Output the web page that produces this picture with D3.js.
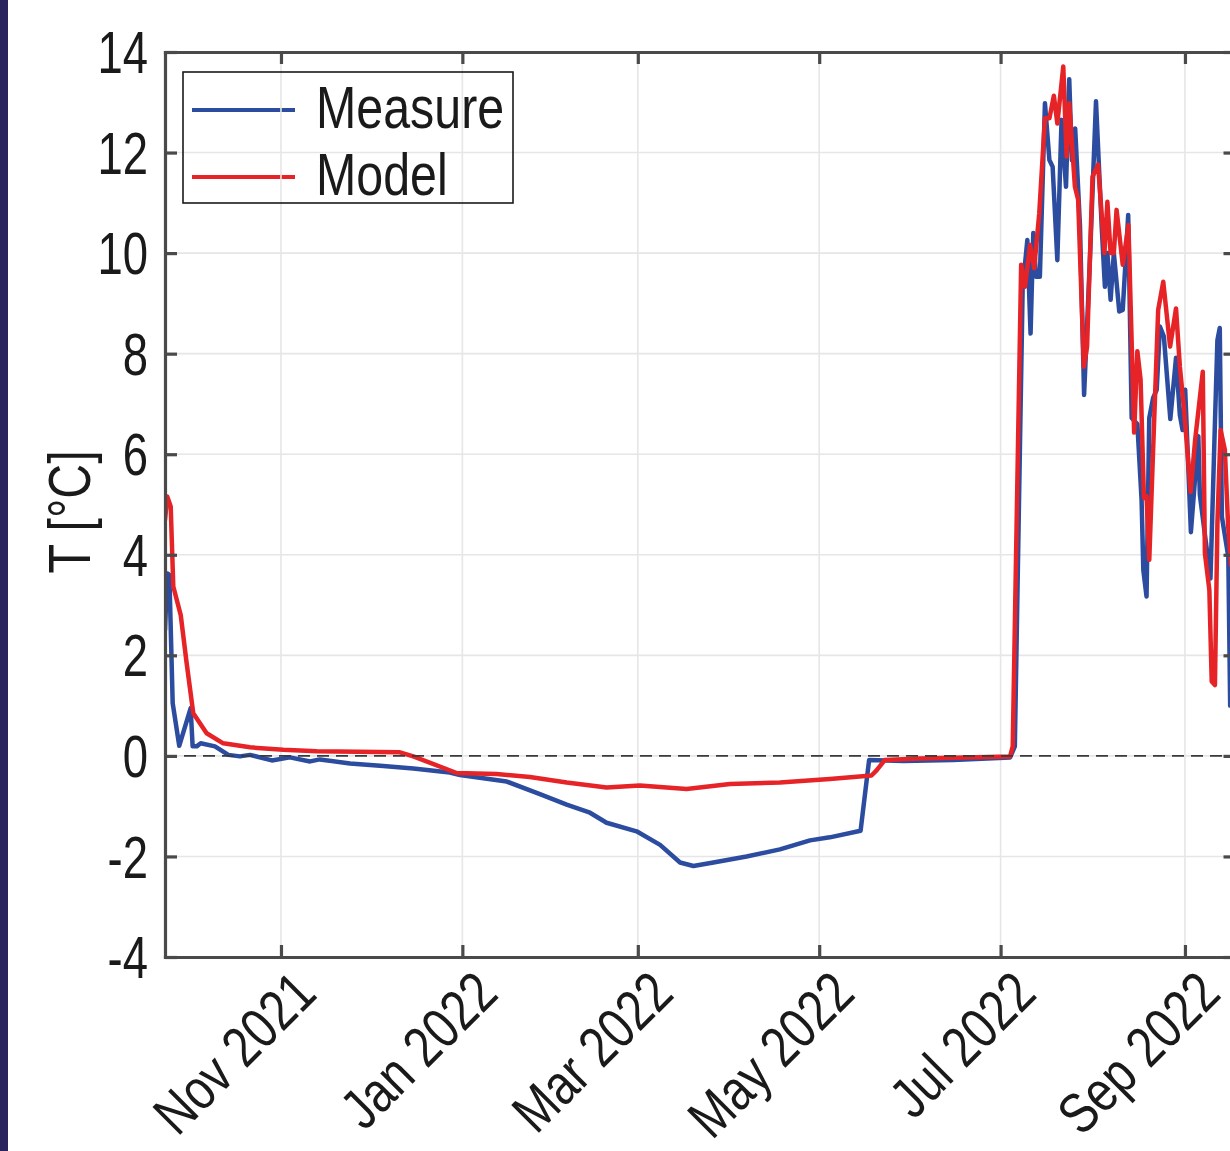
<!DOCTYPE html>
<html>
<head>
<meta charset="utf-8">
<script src="https://cdn.jsdelivr.net/npm/d3@7"></script>
<style>
  html, body { margin: 0; padding: 0; background: #fff; }
  svg { display: block; }
  text { font-family: "Liberation Sans", Arial, Helvetica, sans-serif; fill: #1a1a1a; }
</style>
</head>
<body>
<svg id="chart" width="1230" height="1151"></svg>
<script>
// ---------------- DATA ----------------
const seriesNames = ["Measure", "Model"];

const measureDates = [
  "2021-09-23 00:00","2021-09-23 18:00","2021-09-24 11:00","2021-09-25 14:00","2021-09-27 19:00",
  "2021-10-01 15:00","2021-10-02 07:00","2021-10-03 16:00","2021-10-05 00:00","2021-10-09 19:00",
  "2021-10-14 07:00","2021-10-18 05:00","2021-10-21 14:00","2021-10-28 22:00","2021-11-04 00:00",
  "2021-11-10 19:00","2021-11-14 02:00","2021-11-24 05:00","2021-12-05 10:00","2021-12-15 12:00",
  "2021-12-27 19:00","2021-12-31 05:00","2022-01-15 22:00","2022-01-27 02:00","2022-02-05 02:00",
  "2022-02-12 22:00","2022-02-18 12:00","2022-02-28 14:00","2022-03-08 12:00","2022-03-15 05:00",
  "2022-03-19 17:00","2022-03-26 10:00","2022-04-06 14:00","2022-04-17 19:00","2022-04-27 22:00",
  "2022-05-04 14:00","2022-05-14 22:00","2022-05-17 19:00","2022-05-29 07:00","2022-06-15 02:00",
  "2022-07-04 05:00","2022-07-05 19:00","2022-07-08 10:00","2022-07-10 00:00","2022-07-11 02:00",
  "2022-07-12 00:00","2022-07-12 22:00","2022-07-14 05:00","2022-07-15 22:00","2022-07-17 10:00",
  "2022-07-18 12:00","2022-07-20 02:00","2022-07-21 12:00","2022-07-23 00:00","2022-07-24 02:00",
  "2022-07-25 00:00","2022-07-26 02:00","2022-07-27 17:00","2022-07-29 02:00","2022-07-31 02:00",
  "2022-08-02 02:00","2022-08-04 00:00","2022-08-05 02:00","2022-08-05 22:00","2022-08-07 00:00",
  "2022-08-08 02:00","2022-08-09 22:00","2022-08-11 02:00","2022-08-12 22:00","2022-08-14 02:00",
  "2022-08-16 00:00","2022-08-17 10:00","2022-08-18 00:00","2022-08-19 02:00","2022-08-20 00:00",
  "2022-08-21 07:00","2022-08-22 12:00","2022-08-23 14:00","2022-08-24 22:00","2022-08-27 02:00",
  "2022-08-29 00:00","2022-08-30 07:00","2022-08-31 05:00","2022-09-01 02:00","2022-09-03 00:00",
  "2022-09-05 12:00","2022-09-06 00:00","2022-09-09 14:00","2022-09-11 02:00","2022-09-11 22:00",
  "2022-09-12 17:00","2022-09-13 10:00","2022-09-15 14:00","2022-09-16 05:00"
];
const measureValues = [
  2.5, 3.63, 3.6, 1.05, 0.2,
  0.95, 0.19, 0.19, 0.25, 0.19,
  0.02, -0.01, 0.02, -0.09, -0.03,
  -0.11, -0.07, -0.15, -0.2, -0.25,
  -0.33, -0.38, -0.51, -0.76, -0.97,
  -1.13, -1.33, -1.5, -1.77, -2.12,
  -2.19, -2.12, -2.0, -1.86, -1.68,
  -1.62, -1.49, -0.08, -0.1, -0.08,
  -0.03, 0.19, 9.3, 10.26, 8.4,
  10.4, 9.53, 9.53, 12.98, 11.85,
  11.72, 9.86, 12.65, 11.32, 13.46,
  11.85, 12.48, 10.53, 7.18, 9.93,
  13.02, 10.53, 9.33, 10.0, 9.07,
  10.0, 8.84, 8.87, 10.76, 6.72,
  6.6, 5.09, 3.7, 3.17, 6.72,
  7.12, 7.28, 8.54, 8.34, 6.7,
  7.92, 6.78, 6.48, 7.28, 4.45,
  6.36, 5.2, 3.53, 6.62, 8.27,
  8.51, 4.76, 3.96, 1.0
];

const modelDates = [
  "2021-09-23 00:00","2021-09-23 18:00","2021-09-24 22:00","2021-09-25 19:00","2021-09-28 07:00",
  "2021-09-30 07:00","2021-10-02 12:00","2021-10-07 00:00","2021-10-12 14:00","2021-10-21 14:00",
  "2021-11-01 19:00","2021-11-13 00:00","2021-12-11 00:00","2021-12-15 12:00","2021-12-30 02:00",
  "2022-01-12 12:00","2022-01-23 17:00","2022-02-05 02:00","2022-02-18 12:00","2022-03-01 17:00",
  "2022-03-17 10:00","2022-04-01 00:00","2022-04-17 19:00","2022-05-04 14:00","2022-05-18 14:00",
  "2022-05-20 07:00","2022-05-23 02:00","2022-06-03 22:00","2022-07-04 05:00","2022-07-05 02:00",
  "2022-07-07 22:00","2022-07-09 05:00","2022-07-10 22:00","2022-07-12 07:00","2022-07-14 00:00",
  "2022-07-15 22:00","2022-07-17 10:00","2022-07-18 22:00","2022-07-20 02:00","2022-07-22 02:00",
  "2022-07-23 05:00","2022-07-24 02:00","2022-07-26 00:00","2022-07-27 02:00","2022-07-29 00:00",
  "2022-07-30 02:00","2022-07-31 22:00","2022-08-02 19:00","2022-08-04 22:00","2022-08-05 22:00",
  "2022-08-07 00:00","2022-08-08 02:00","2022-08-09 00:00","2022-08-11 02:00","2022-08-13 00:00",
  "2022-08-14 22:00","2022-08-16 00:00","2022-08-17 02:00","2022-08-18 05:00","2022-08-19 02:00",
  "2022-08-20 00:00","2022-08-21 12:00","2022-08-23 00:00","2022-08-24 17:00","2022-08-27 00:00",
  "2022-08-29 00:00","2022-08-30 07:00","2022-08-31 17:00","2022-09-02 22:00","2022-09-04 10:00",
  "2022-09-07 00:00","2022-09-07 17:00","2022-09-09 05:00","2022-09-10 00:00","2022-09-11 02:00",
  "2022-09-11 22:00","2022-09-13 00:00","2022-09-14 10:00","2022-09-15 12:00","2022-09-16 12:00"
];
const modelValues = [
  4.69, 5.16, 4.96, 3.37, 2.8,
  1.84, 0.85, 0.45, 0.25, 0.17,
  0.12, 0.09, 0.07, -0.01, -0.34,
  -0.36, -0.42, -0.53, -0.63, -0.59,
  -0.66, -0.56, -0.53, -0.46, -0.39,
  -0.29, -0.08, -0.05, -0.01, 0.19,
  9.77, 9.33, 10.16, 9.7, 10.79,
  12.68, 12.68, 13.13, 12.58, 13.71,
  11.92, 12.98, 11.32, 11.06, 7.74,
  8.14, 11.52, 11.76, 10.0, 11.02,
  10.0, 10.0, 10.86, 9.77, 10.56,
  6.43, 8.05, 7.48, 5.13, 5.16,
  3.9, 6.43, 8.87, 9.43, 8.14,
  8.9, 7.74, 6.88, 5.25, 6.28,
  7.64, 4.03, 3.3, 1.48, 1.41,
  4.63, 6.48, 6.09, 4.6, 3.8
];

const xTickDates = ["2021-11-01", "2022-01-01", "2022-03-01", "2022-05-01", "2022-07-01", "2022-09-01"];
const xTickLabels = ["Nov 2021", "Jan 2022", "Mar 2022", "May 2022", "Jul 2022", "Sep 2022"];
const yTickValues = [-4, -2, 0, 2, 4, 6, 8, 10, 12, 14];
const yTickLabels = ["-4", "-2", "0", "2", "4", "6", "8", "10", "12", "14"];
const xDomain = ["2021-09-23 00:00", "2022-09-18 00:00"];
const yDomain = [-4, 14];
const yLabel = "T [°C]";

// ---------------- LAYOUT ----------------
const parseDT = d3.timeParse("%Y-%m-%d %H:%M");
const parseD = d3.timeParse("%Y-%m-%d");

const pLeft = 165, pTop = 52, pBottom = 957, pRight = 1235.5;
const FS = 59, NARROW = 0.82, LW = 4.5;
const COL_BLUE = "#2b4c9f", COL_RED = "#e62428", AXC = "#4a4a4a";

const xScale = d3.scaleTime().domain(xDomain.map(parseDT)).range([pLeft, pRight]);
const yScale = d3.scaleLinear().domain(yDomain).range([pBottom, pTop]);

const svg = d3.select("#chart");

// left navy strip
svg.append("rect").attr("x", 0).attr("y", 0).attr("width", 8).attr("height", 1151).attr("fill", "#29245e");

svg.append("defs").append("clipPath").attr("id", "plotclip")
  .append("rect").attr("x", pLeft).attr("y", pTop).attr("width", pRight - pLeft).attr("height", pBottom - pTop);

// legend sample lines (drawn beneath grid, like reference)
const legX0 = 183, legY0 = 72, legX1 = 513, legY1 = 203;
const legendItems = [
  { name: seriesNames[0], color: COL_BLUE, ly: 110, ty: 128 },
  { name: seriesNames[1], color: COL_RED, ly: 177, ty: 195 }
];
svg.append("g").selectAll("line").data(legendItems).join("line")
  .attr("x1", 192).attr("x2", 295).attr("y1", d => d.ly).attr("y2", d => d.ly)
  .attr("stroke", d => d.color).attr("stroke-width", 4);

// grid
const xTicks = xTickDates.map(parseD);
const grid = svg.append("g").attr("stroke", "#e6e6e6").attr("stroke-width", 1.6);
grid.selectAll(".gx").data(xTicks).join("line").attr("class", "gx")
  .attr("x1", d => xScale(d)).attr("x2", d => xScale(d)).attr("y1", pTop).attr("y2", pBottom);
grid.selectAll(".gy").data(yTickValues).join("line").attr("class", "gy")
  .attr("x1", pLeft).attr("x2", pRight).attr("y1", d => yScale(d)).attr("y2", d => yScale(d));

// data lines
const plot = svg.append("g").attr("clip-path", "url(#plotclip)");
const lineGen = d3.line().x(d => xScale(d[0])).y(d => yScale(d[1]));
const measure = measureDates.map((d, i) => [parseDT(d), measureValues[i]]);
const model = modelDates.map((d, i) => [parseDT(d), modelValues[i]]);
plot.append("path").datum(measure).attr("d", lineGen)
  .attr("fill", "none").attr("stroke", COL_BLUE).attr("stroke-width", LW)
  .attr("stroke-linejoin", "round").attr("stroke-linecap", "round");
plot.append("path").datum(model).attr("d", lineGen)
  .attr("fill", "none").attr("stroke", COL_RED).attr("stroke-width", LW)
  .attr("stroke-linejoin", "round").attr("stroke-linecap", "round");

// zero dashed line
plot.append("line").attr("x1", pLeft).attr("x2", pRight).attr("y1", yScale(0)).attr("y2", yScale(0))
  .attr("stroke", "#3a3a3a").attr("stroke-width", 1.8).attr("stroke-dasharray", "12,7");

// axes box with inward ticks (all four sides)
const axG = svg.append("g");
const tl = 12;
axG.append("g").attr("transform", `translate(0,${pBottom})`)
  .call(d3.axisBottom(xScale).tickValues(xTicks).tickSizeInner(-tl).tickSizeOuter(0).tickFormat(""));
axG.append("g").attr("transform", `translate(0,${pTop})`)
  .call(d3.axisTop(xScale).tickValues(xTicks).tickSizeInner(-tl).tickSizeOuter(0).tickFormat(""));
axG.append("g").attr("transform", `translate(${pLeft},0)`)
  .call(d3.axisLeft(yScale).tickValues(yTickValues).tickSizeInner(-tl).tickSizeOuter(0).tickFormat(""));
axG.append("g").attr("transform", `translate(${pRight},0)`)
  .call(d3.axisRight(yScale).tickValues(yTickValues).tickSizeInner(-tl).tickSizeOuter(0).tickFormat(""));
axG.selectAll(".domain").attr("stroke", AXC).attr("stroke-width", 3.2).attr("stroke-linecap", "square");
axG.selectAll(".tick line").attr("stroke", AXC).attr("stroke-width", 3.2);

// y tick labels
svg.append("g").selectAll("text").data(yTickValues).join("text")
  .attr("transform", d => `translate(148,${yScale(d) + FS * 0.358}) scale(0.77,1)`)
  .attr("text-anchor", "end").attr("font-size", FS)
  .text((d, i) => yTickLabels[i]);

// x tick labels (rotated 45°)
const XFS = 57;
svg.append("g").selectAll("text").data(xTicks).join("text")
  .attr("transform", d => `translate(${xScale(d) + 38},996) rotate(-45) scale(${NARROW},1)`)
  .attr("text-anchor", "end").attr("font-size", XFS)
  .text((d, i) => xTickLabels[i]);

// y axis label
svg.append("text")
  .attr("transform", `translate(90,512) rotate(-90) scale(${NARROW},1)`)
  .attr("text-anchor", "middle").attr("font-size", FS)
  .text(yLabel);

// legend box and text
svg.append("rect").attr("x", legX0).attr("y", legY0).attr("width", legX1 - legX0).attr("height", legY1 - legY0)
  .attr("fill", "none").attr("stroke", "#1a1a1a").attr("stroke-width", 1.6);
svg.append("g").selectAll("text").data(legendItems).join("text")
  .attr("transform", d => `translate(316,${d.ty}) scale(${NARROW},1)`)
  .attr("font-size", FS).text(d => d.name);
</script>
</body>
</html>
